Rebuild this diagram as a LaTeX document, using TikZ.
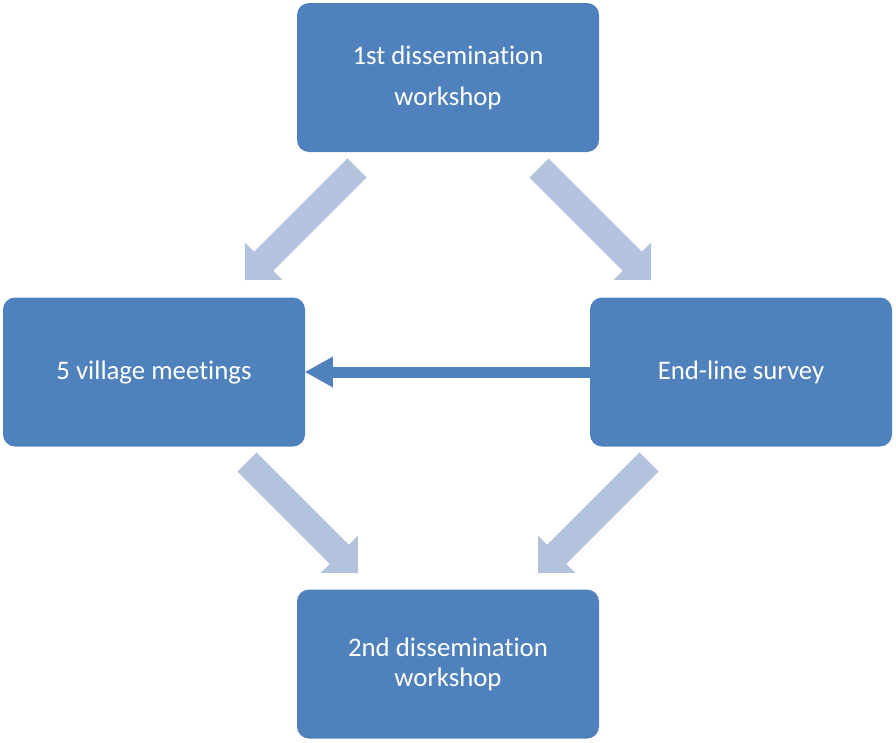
\documentclass[tikz,border=0pt]{standalone}
\usepackage{fontspec}
\setmainfont{Carlito}[Ligatures=NoCommon]
\usetikzlibrary{arrows.meta}
\definecolor{boxblue}{HTML}{4F81BD}
\definecolor{paleblue}{HTML}{B3C3DE}
\tikzset{
	stage/.style={rectangle, rounded corners=12pt, fill=boxblue, text=white,
		minimum width=302pt, minimum height=149pt, inner sep=0pt, align=center},
	bigarrow/.style={paleblue, line width=27pt,
		-{Triangle[length=26.5pt, width=52.6pt, line width=0pt]}},
	thinarrow/.style={boxblue, line width=11pt,
		-{Triangle[length=27.7pt, width=31pt, line width=0pt]}}
}
\begin{document}
\begin{tikzpicture}[x=1pt, y=-1pt, line join=miter, line cap=butt]
	\useasboundingbox (0,0) rectangle (896,742);
	\node[stage, font=\fontsize{26.8}{41}\selectfont] (first) at (448,77.5) {1st dissemination\\workshop};
	\node[stage, font=\fontsize{26.8}{30}\selectfont] (village) at (154,372) {5 village meetings};
	\node[stage, font=\fontsize{26.8}{30}\selectfont] (survey) at (741,372) {End-line survey};
	\node[stage, font=\fontsize{26.8}{30}\selectfont] (second) at (448,664) {2nd dissemination\\workshop};
	\path
	(357,168) coordinate (tl-s)
	(245,280) coordinate (tl-e)
	(539,168) coordinate (tr-s)
	(651,280) coordinate (tr-e)
	(247,462) coordinate (bl-s)
	(358,573) coordinate (bl-e)
	(649,462) coordinate (br-s)
	(538,573) coordinate (br-e);
	\draw[bigarrow] (tl-s)--(tl-e);
	\draw[bigarrow] (tr-s)--(tr-e);
	\draw[bigarrow] (bl-s)--(bl-e);
	\draw[bigarrow] (br-s)--(br-e);
	\draw[thinarrow] (survey.west)--(village.east);
\end{tikzpicture}
\end{document}
